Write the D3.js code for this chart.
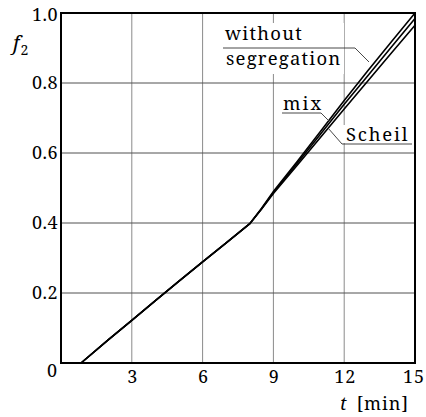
<!DOCTYPE html>
<html>
<head>
<meta charset="utf-8">
<script src="https://cdn.jsdelivr.net/npm/d3@7"></script>
<style>
  body { margin: 0; background: #fff; }
</style>
</head>
<body>
<div id="chart"></div>
<script>
// data
var times = [0.85, 2, 3, 4, 5, 6, 7, 8, 8.5, 9, 10, 11, 12, 13, 14, 15];
var fWithout = [0, 0.066, 0.122, 0.178, 0.234, 0.289, 0.343, 0.398, 0.442, 0.49, 0.575, 0.662, 0.75, 0.835, 0.918, 1.0];
var fMix     = [0, 0.066, 0.122, 0.178, 0.234, 0.289, 0.343, 0.398, 0.441, 0.487, 0.570, 0.654, 0.739, 0.821, 0.903, 0.984];
var fScheil  = [0, 0.066, 0.122, 0.178, 0.234, 0.289, 0.343, 0.398, 0.44, 0.484, 0.564, 0.645, 0.726, 0.806, 0.886, 0.965];
var xTicks = [3, 6, 9, 12, 15];
var yTicks = [0.2, 0.4, 0.6, 0.8, 1.0];

var svgWidth = 426, svgHeight = 417;
var margin = {top: 13, right: 11, bottom: 54, left: 61};
var width = svgWidth - margin.left - margin.right;
var height = svgHeight - margin.top - margin.bottom;

var svg = d3.select("#chart").append("svg")
  .attr("width", svgWidth)
  .attr("height", svgHeight)
  .attr("font-family", "'Noto Serif', 'Liberation Serif', 'DejaVu Serif', serif");

var g = svg.append("g")
  .attr("transform", `translate(${margin.left}, ${margin.top})`);

var xScale = d3.scaleLinear().domain([0, 15]).range([0, width]);
var yScale = d3.scaleLinear().domain([0, 1]).range([height, 0]);

// grid
g.selectAll(".vgrid").data(xTicks.slice(0, 4)).enter().append("line")
  .attr("x1", d => xScale(d)).attr("x2", d => xScale(d))
  .attr("y1", 0).attr("y2", height)
  .attr("stroke", "#8a8a8a").attr("stroke-width", 1);
g.selectAll(".hgrid").data(yTicks.slice(0, 4)).enter().append("line")
  .attr("x1", 0).attr("x2", width)
  .attr("y1", d => yScale(d)).attr("y2", d => yScale(d))
  .attr("stroke", "#505050").attr("stroke-width", 1);

// white boxes behind labels (they hide the grid)
svg.append("rect").attr("x", 222).attr("y", 23).attr("width", 122).attr("height", 51).attr("fill", "#fff");
svg.append("rect").attr("x", 343).attr("y", 125).attr("width", 70).attr("height", 18).attr("fill", "#fff");

// curves
var line = d3.line()
  .x((d, i) => xScale(times[i]))
  .y(d => yScale(d));

[fWithout, fMix, fScheil].forEach(function(s) {
  g.append("path")
    .datum(s)
    .attr("d", line)
    .attr("fill", "none")
    .attr("stroke", "#000")
    .attr("stroke-width", 1.6);
});

// frame
g.append("rect")
  .attr("width", width).attr("height", height)
  .attr("fill", "none").attr("stroke", "#000").attr("stroke-width", 2);

// tick labels
g.selectAll(".xt").data(xTicks).enter().append("text")
  .attr("x", d => xScale(d) + (d === 15 ? -1 : 1))
  .attr("y", height + 20)
  .attr("text-anchor", "middle")
  .attr("font-size", "18px")
  .attr("letter-spacing", "1px")
  .text(d => d);

g.selectAll(".yt").data(yTicks).enter().append("text")
  .attr("x", -3)
  .attr("y", d => yScale(d) + (d === 1 ? 8 : 6))
  .attr("text-anchor", "end")
  .attr("font-size", "18px")
  .attr("letter-spacing", "0.5px")
  .text(d => d.toFixed(1));

svg.append("text")
  .attr("x", 47).attr("y", 377)
  .attr("font-size", "18px")
  .text("0");

// axis titles
var fy = svg.append("text").attr("x", 13).attr("y", 50).attr("font-size", "20px");
fy.append("tspan").attr("font-style", "italic").text("f");
fy.append("tspan").attr("font-size", "14px").attr("dy", 5).attr("dx", 1).text("2");

var tx = svg.append("text").attr("x", 340).attr("y", 410).attr("font-size", "18px").attr("letter-spacing", "1px");
tx.append("tspan").attr("font-style", "italic").text("t");
tx.append("tspan").attr("dx", 9).text("[min]");

// series labels
var lab = [
  {t: "without", x: 225, y: 40, ls: 1.3},
  {t: "segregation", x: 226, y: 65, ls: 1.2},
  {t: "mix", x: 283, y: 110, ls: 2},
  {t: "Scheil", x: 346, y: 141, ls: 1.8}
];
svg.selectAll(".lab").data(lab).enter().append("text")
  .attr("x", d => d.x).attr("y", d => d.y)
  .attr("font-size", "18.5px")
  .attr("letter-spacing", d => d.ls + "px")
  .text(d => d.t);

var leaders = [
  [[223, 48], [355, 48], [369, 62]],
  [[282, 113], [321, 113], [329, 121]],
  [[412, 144], [342, 144], [328, 128]]
];
leaders.forEach(function(p) {
  svg.append("path")
    .attr("d", d3.line()(p))
    .attr("fill", "none")
    .attr("stroke", "#333")
    .attr("stroke-width", 0.9);
});
</script>
</body>
</html>
